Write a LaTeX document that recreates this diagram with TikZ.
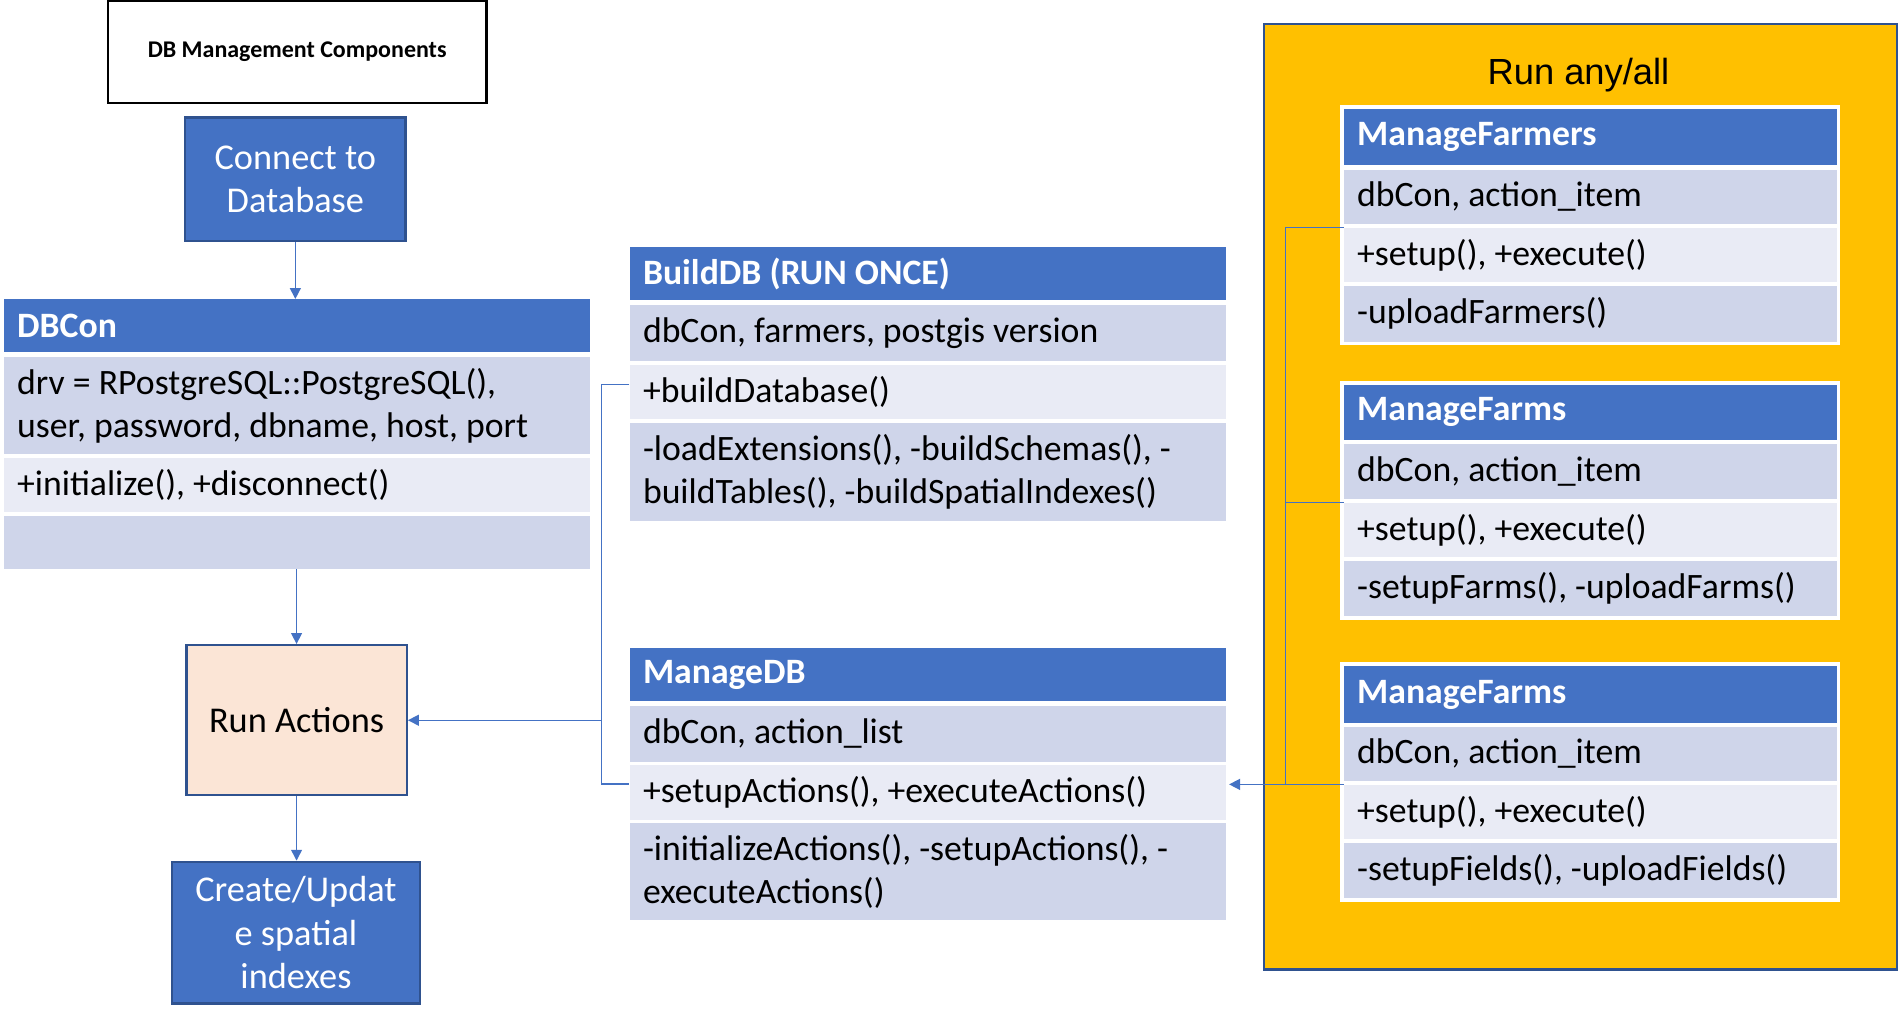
\documentclass[tikz,border=0pt]{standalone}
\usepackage{fontspec}
\setmainfont{Carlito}
\newfontfamily\arialf{Liberation Sans}
\usetikzlibrary{arrows.meta}
\definecolor{hdrblue}{HTML}{4472C4}
\definecolor{rowdark}{HTML}{CFD5EA}
\definecolor{rowlight}{HTML}{E9EBF5}
\definecolor{peach}{HTML}{FBE5D6}
\definecolor{gold}{HTML}{FFC000}
\definecolor{edgeblue}{HTML}{2F528F}
\definecolor{linkblue}{HTML}{4472C4}
\newcommand\cellfnt{\fontsize{29.5}{35.5}\selectfont}
\newcommand\boxfnt{\fontsize{30}{36}\selectfont}
\begin{document}
\begin{tikzpicture}[x=1pt,y=-1pt,
  cell/.style={anchor=north west, inner xsep=11pt, inner ysep=0pt, align=flush left, font=\cellfnt},
  hdr/.style={cell, fill=hdrblue, text=white, font=\cellfnt\bfseries},
  rowd/.style={cell, fill=rowdark},
  rowl/.style={cell, fill=rowlight},
  wdb/.style={text width=462pt, minimum width=484pt},
  wmid/.style={text width=471pt, minimum width=493pt},
  wright/.style={text width=385pt, minimum width=407pt},
  bigbox/.style={draw=edgeblue, line width=2pt, align=flush center, font=\boxfnt},
  conn/.style={draw=linkblue, line width=1pt},
  arr/.style={conn, line width=1.2pt, -{Triangle[width=9pt,length=9pt]}},
  back/.style={fill=white}
]
\useasboundingbox (0,0) rectangle (1568,842.6);

% title
\node[draw=black, line width=2pt, fill=white, minimum width=313pt, minimum height=84pt,
      font=\fontsize{19.8}{22}\selectfont\bfseries] (title) at (245.5,43) {DB Management Components};

% connect
\node[bigbox, fill=hdrblue, text=white, minimum width=182pt, minimum height=102pt] (connect) at (244,148) {Connect to\\Database};

% DBCon
\node[hdr, wdb, minimum height=44pt] (dbh) at (3,247) {DBCon};
\node[rowd, wdb, minimum height=80pt] (dbr1) at (3,295) {drv = RPostgreSQL::PostgreSQL(),\\user, password, dbname, host, port};
\node[rowl, wdb, minimum height=45pt] (dbr2) at (3,378) {+initialize(), +disconnect()};
\node[rowd, wdb, minimum height=44pt] (dbr3) at (3,426) {};

% run actions
\node[bigbox, fill=peach, minimum width=182pt, minimum height=124pt] (run) at (245,595) {Run Actions};

% create
\node[bigbox, fill=hdrblue, text=white, minimum width=205pt, minimum height=117pt] (create) at (244.5,770.5) {Create/Updat\\e spatial\\indexes};

% BuildDB
\node[hdr, wmid, minimum height=44pt] (bdh) at (520,204) {BuildDB (RUN ONCE)};
\node[rowd, wmid, minimum height=46pt] (bdr1) at (520,252) {dbCon, farmers, postgis version};
\node[rowl, wmid, minimum height=45pt] (bdr2) at (520,301) {+buildDatabase()};
\node[rowd, wmid, minimum height=81pt] (bdr3) at (520,349) {-loadExtensions(), -buildSchemas(), -\\buildTables(), -buildSpatialIndexes()};

% ManageDB
\node[hdr, wmid, minimum height=44pt] (mdh) at (520,535) {ManageDB};
\node[rowd, wmid, minimum height=46pt] (mdr1) at (520,583) {dbCon, action\_list};
\node[rowl, wmid, minimum height=45pt] (mdr2) at (520,632) {+setupActions(), +executeActions()};
\node[rowd, wmid, minimum height=80pt] (mdr3) at (520,680) {-initializeActions(), -setupActions(), -\\executeActions()};

% gold group
\node[draw=edgeblue, line width=2pt, fill=gold, minimum width=523pt, minimum height=781pt, anchor=north west] (grp) at (1043,19) {};
\node[font=\arialf\fontsize{30}{36}\selectfont] (grptitle) at (1304,62) {Run any/all};

% table 1
\fill[back] (1107,87) rectangle (1520,285);
\node[hdr, wright, minimum height=46pt] (afh) at (1110,90) {ManageFarmers};
\node[rowd, wright, minimum height=45pt] (afr1) at (1110,140) {dbCon, action\_item};
\node[rowl, wright, minimum height=45pt] (afr2) at (1110,188) {+setup(), +execute()};
\node[rowd, wright, minimum height=46pt] (afr3) at (1110,236) {-uploadFarmers()};

% table 2
\fill[back] (1107,315) rectangle (1520,512);
\node[hdr, wright, minimum height=45pt] (bfh) at (1110,318) {ManageFarms};
\node[rowd, wright, minimum height=45pt] (bfr1) at (1110,367) {dbCon, action\_item};
\node[rowl, wright, minimum height=45pt] (bfr2) at (1110,415) {+setup(), +execute()};
\node[rowd, wright, minimum height=46pt] (bfr3) at (1110,463) {-setupFarms(), -uploadFarms()};

% table 3
\fill[back] (1107,547) rectangle (1520,745);
\node[hdr, wright, minimum height=47pt] (cfh) at (1110,550) {ManageFarms};
\node[rowd, wright, minimum height=45pt] (cfr1) at (1110,600) {dbCon, action\_item};
\node[rowl, wright, minimum height=45pt] (cfr2) at (1110,648) {+setup(), +execute()};
\node[rowd, wright, minimum height=46pt] (cfr3) at (1110,696) {-setupFields(), -uploadFields()};

% vertical flow
\draw[arr] (connect.south) -- (connect.south |- dbh.north);
\draw[arr] (run.north |- dbr3.south) -- (run.north);
\draw[arr] (run.south) -- (run.south |- create.north);

% left bracket
\coordinate (lbr) at (497,0);
\draw[conn] ([yshift=6pt]bdr2.west) -- ([yshift=6pt]lbr |- bdr2.west) -- ([yshift=7pt]lbr |- mdr2.west) -- ([yshift=7pt]mdr2.west);
\draw[arr] (lbr |- run.east) -- (run.east);

% right bracket
\coordinate (rbr) at (1062,0);
\draw[conn] (afr2.north west) -- (rbr |- afr2.north west) -- (rbr |- cfr2.north west);
\draw[conn] (bfr2.north west) -- (rbr |- bfr2.north west);
\draw[conn] (cfr2.north west) -- (rbr |- cfr2.north west);
\draw[arr] (rbr |- cfr2.north west) -- ([xshift=2pt]mdr2.east |- cfr2.north west);
\end{tikzpicture}
\end{document}
